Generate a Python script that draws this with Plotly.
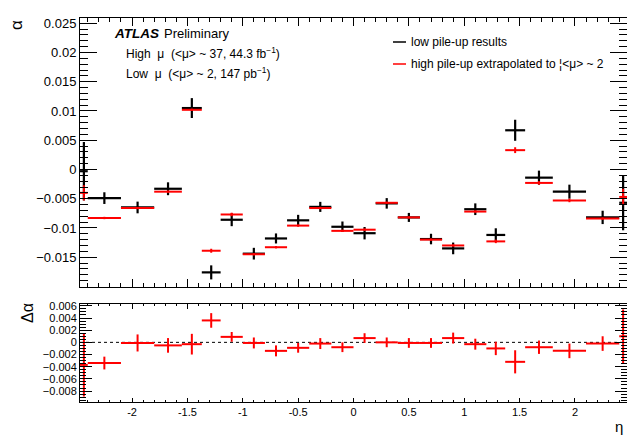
import plotly.graph_objects as go

# ---------------- data ----------------
eta_edges = [-2.47, -2.4, -2.1, -1.8, -1.55, -1.37, -1.2, -1.0, -0.8, -0.6, -0.4, -0.2,
             0.0, 0.2, 0.4, 0.6, 0.8, 1.0, 1.2, 1.37, 1.55, 1.8, 2.1, 2.4, 2.47]

alpha_low = [-0.0003, -0.0049, -0.0065, -0.0033, 0.0105, -0.0176, -0.0086, -0.0144,
             -0.0118, -0.0087, -0.0064, -0.0098, -0.0109, -0.0058, -0.0082, -0.0119,
             -0.0135, -0.0068, -0.0112, 0.0067, -0.0014, -0.0038, -0.0082, -0.0057]
alpha_low_err = [0.0050, 0.0010, 0.0010, 0.0011, 0.0017, 0.0012, 0.0011, 0.0010,
                 0.00086, 0.00094, 0.00086, 0.0009, 0.00106, 0.0009, 0.00077, 0.0009,
                 0.0010, 0.0010, 0.00114, 0.0018, 0.0012, 0.0012, 0.00114, 0.0047]

alpha_high = [-0.0040, -0.0083, -0.0066, -0.0038, 0.0102, -0.0139, -0.0077, -0.0145,
              -0.0133, -0.0096, -0.0066, -0.0105, -0.0103, -0.0057, -0.0082, -0.0120,
              -0.0130, -0.0072, -0.0123, 0.0033, -0.0023, -0.0053, -0.0084, -0.0047]
alpha_high_err = [0.0013, 0.0002, 0.0002, 0.0002, 0.0002, 0.00034, 0.0003, 0.0002,
                  0.0002, 0.0002, 0.0002, 0.0002, 0.0002, 0.0002, 0.0002, 0.0002,
                  0.0002, 0.0002, 0.0003, 0.0005, 0.0003, 0.0003, 0.0002, 0.0014]

delta_alpha = [-0.0037, -0.0034, -0.0001, -0.0005, -0.0003, 0.0036, 0.0009, -0.0001,
               -0.0014, -0.0009, -0.0002, -0.0008, 0.0007, 0.0000, -0.0001, -0.0001,
               0.0007, -0.0003, -0.0010, -0.0032, -0.0008, -0.0014, -0.0002, 0.0010]
delta_alpha_err = [0.0052, 0.00105, 0.0014, 0.0012, 0.0017, 0.0012, 0.0008, 0.0009,
                   0.0009, 0.0008, 0.0009, 0.0008, 0.0008, 0.0008, 0.0008, 0.0008,
                   0.0009, 0.0009, 0.0011, 0.0019, 0.0011, 0.0012, 0.0012, 0.0044]

main_y_tickvals = [0.025, 0.02, 0.015, 0.01, 0.005, 0, -0.005, -0.01, -0.015]
main_y_ticktext = ["0.025", "0.02", "0.015", "0.01", "0.005", "0", "\u22120.005", "\u22120.01", "\u22120.015"]
low_y_tickvals = [0.006, 0.004, 0.002, 0, -0.002, -0.004, -0.006, -0.008]
low_y_ticktext = ["0.006", "0.004", "0.002", "0", "\u22120.002", "\u22120.004", "\u22120.006", "\u22120.008"]
x_tickvals = [-2, -1.5, -1, -0.5, 0, 0.5, 1, 1.5, 2]
x_ticktext = ["-2", "-1.5", "-1", "-0.5", "0", "0.5", "1", "1.5", "2"]

# ---------------- derived bin geometry ----------------
centers = [(a + b) / 2 for a, b in zip(eta_edges[:-1], eta_edges[1:])]
half_w = [(b - a) / 2 for a, b in zip(eta_edges[:-1], eta_edges[1:])]

BLACK = "#000000"
RED = "#ff0000"
FONT = "Liberation Sans, Arial, Helvetica, sans-serif"

fig = go.Figure()

def cross(x, y, ey, color, thick, xa, ya):
    return go.Scatter(
        x=x, y=y, mode="markers", xaxis=xa, yaxis=ya,
        marker=dict(size=1, color=color, opacity=0),
        error_x=dict(type="data", array=half_w, symmetric=True, width=0,
                     thickness=thick, color=color),
        error_y=dict(type="data", array=ey, symmetric=True, width=0,
                     thickness=thick, color=color),
        showlegend=False, hoverinfo="skip",
    )

fig.add_trace(cross(centers, alpha_low, alpha_low_err, BLACK, 2.2, "x", "y"))
fig.add_trace(cross(centers, alpha_high, alpha_high_err, RED, 2.0, "x", "y"))
fig.add_trace(cross(centers, delta_alpha, delta_alpha_err, RED, 2.0, "x2", "y2"))

# ---------------- layout ----------------
W, H = 627, 435
ML, MR, MT, MB = 80, 0, 18, 33
PW, PH = W - ML - MR, H - MT - MB

def px(x):
    return (x - ML) / PW

def py(y):
    return (H - MB - y) / PH

axis_common = dict(showline=True, linecolor=BLACK, linewidth=1, mirror="allticks",
                   showgrid=False, zeroline=False, ticks="inside", tickcolor=BLACK,
                   tickwidth=1)

fig.update_layout(
    width=W, height=H,
    margin=dict(l=ML, r=MR, t=MT, b=MB, pad=0),
    paper_bgcolor="white", plot_bgcolor="white",
    font=dict(family=FONT, color=BLACK),
    xaxis=dict(domain=[0, 1], anchor="y", range=[-2.47, 2.47],
               tickvals=x_tickvals, showticklabels=False, ticklen=8,
               minor=dict(ticks="inside", ticklen=4, dtick=0.1, tick0=0, tickcolor=BLACK),
               **axis_common),
    yaxis=dict(domain=[py(287), 1], anchor="x", range=[-0.0201, 0.0259],
               tickvals=main_y_tickvals, ticktext=main_y_ticktext, ticklen=17,
               tickfont=dict(size=13, family=FONT),
               minor=dict(ticks="inside", ticklen=8, dtick=0.001, tick0=0, tickcolor=BLACK),
               **axis_common),
    xaxis2=dict(domain=[0, 1], anchor="y2", range=[-2.47, 2.47],
                tickvals=x_tickvals, ticktext=x_ticktext, ticklen=4.5,
                tickfont=dict(size=11, family=FONT),
                minor=dict(ticks="inside", ticklen=2, dtick=0.1, tick0=0, tickcolor=BLACK),
                **axis_common),
    yaxis2=dict(domain=[0, py(304)], anchor="x2", range=[-0.0098, 0.0063],
                tickvals=low_y_tickvals, ticktext=low_y_ticktext, ticklen=12,
                tickfont=dict(size=11, family=FONT),
                minor=dict(ticks="inside", ticklen=6, dtick=0.0005, tick0=0, tickcolor=BLACK),
                **axis_common),
)

# zero reference line in ratio panel
fig.add_shape(type="line", xref="x2", yref="y2", x0=-2.47, x1=2.47, y0=0, y1=0,
              line=dict(color=BLACK, width=1, dash="dot"), layer="below")

# legend line samples
fig.add_shape(type="line", xref="paper", yref="paper", x0=px(393), x1=px(406),
              y0=py(42), y1=py(42), line=dict(color=BLACK, width=1.5))
fig.add_shape(type="line", xref="paper", yref="paper", x0=px(393), x1=px(406),
              y0=py(64), y1=py(64), line=dict(color=RED, width=1.5))

def ann(text, x, y, size, xanchor="left", angle=0, **kw):
    fig.add_annotation(text=text, xref="paper", yref="paper", x=px(x), y=py(y),
                       xanchor=xanchor, yanchor="middle", showarrow=False,
                       textangle=angle, font=dict(size=size, family=FONT, color=BLACK),
                       **kw)

ann("<b><i>ATLAS</i></b>", 112, 34, 13.5)
ann("Preliminary", 162, 34, 13)
ann("High  \u03bc  (<\u03bc> ~ 37, 44.3 fb<sup>\u22121</sup>)", 124, 53, 12)
ann("Low  \u03bc  (<\u03bc> ~ 2, 147 pb<sup>\u22121</sup>)", 124, 73, 12)
ann("low pile-up results", 409, 42, 12)
ann("high pile-up extrapolated to \u00a6<\u03bc> ~ 2", 409, 64, 12)
ann("\u03b1", 17, 25, 17, xanchor="center", angle=-90)
ann("\u0394\u03b1", 27, 313, 16, xanchor="center", angle=-90)
ann("\u03b7", 619, 426, 15, xanchor="center")

fig.write_html("out.html")
